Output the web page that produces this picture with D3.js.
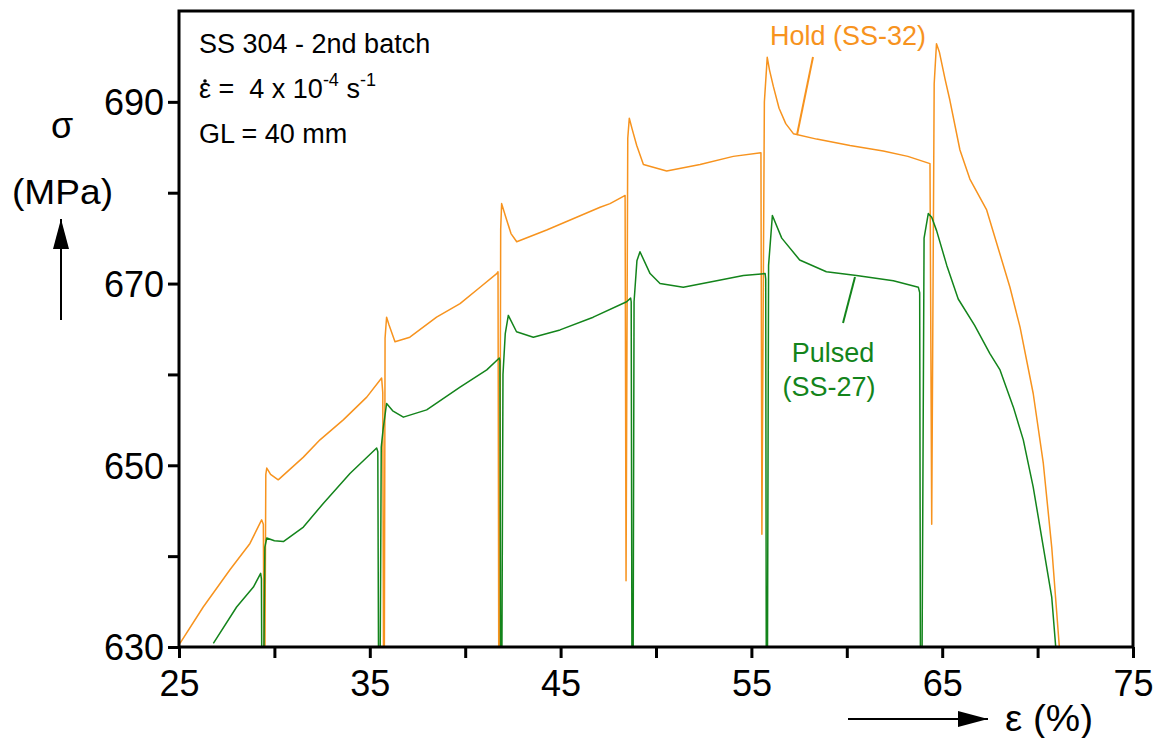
<!DOCTYPE html>
<html>
<head>
<meta charset="utf-8">
<script src="https://cdn.jsdelivr.net/npm/d3@7"></script>
<style>
  body { margin: 0; background: #fff; }
  svg { display: block; font-family: 'Liberation Sans', Arial, sans-serif; }
</style>
</head>
<body>
<svg id="svg"></svg>
<script>
// Hold (SS-32) : strain (%) / stress (MPa)
const holdStrain = [25.05, 26.27, 27.67, 28.72, 29.33, 29.42, 29.46, 29.50, 29.55, 29.6, 29.8, 30.2, 31.52, 32.39, 33.61, 34.84, 35.62,
  35.68, 35.72, 35.76, 35.8, 35.88, 36.0, 36.32, 37.1, 38.5, 39.73, 40.78, 41.65, 41.72, 41.76, 41.80, 41.86, 41.91, 42.1, 42.4, 42.7,
  44.27, 45.84, 47.07, 47.59, 48.29, 48.38, 48.43, 48.52, 48.60, 48.75, 48.99, 49.34, 50.56, 52.31, 54.05, 55.50, 55.55, 55.68, 55.83,
  55.95, 56.15, 56.45, 56.8, 57.2, 58.42, 60.17, 61.91, 63.2, 64.36, 64.45, 64.58, 64.7, 64.85, 65.15, 65.4, 65.93, 66.45, 67.33, 68.55,
  69.08, 69.77, 70.3, 70.74, 71.14, 71.2]
const holdStress = [630.4, 634.4, 638.5, 641.4, 644.0, 643.5, 627, 627, 649.0, 649.7, 649.0, 648.4, 650.9, 652.8, 655.0, 657.5, 659.6,
  658, 627, 627, 664, 666.3, 665.5, 663.6, 664.1, 666.3, 667.8, 669.6, 671.1, 671.3, 627, 627, 676, 678.8, 677.5, 675.5, 674.6,
  675.9, 677.3, 678.4, 678.8, 679.6, 679.7, 637.3, 686, 688.2, 687, 685.2, 683.1, 682.4, 683.1, 684.0, 684.4, 642.4, 690, 694.9,
  693.5, 691.7, 689.3, 687.6, 686.5, 685.9, 685.2, 684.6, 684.0, 683.2, 643.5, 692, 696.4, 695.5, 692.5, 690.2, 684.7, 681.5, 678.1, 669.6,
  665.2, 657.9, 650.2, 641.0, 630, 627]

// Pulsed (SS-27)
const pulsedStrain = [26.8, 28.02, 28.9, 29.28, 29.32, 29.34, 29.44, 29.5, 29.6, 30.0, 30.47, 31.52, 32.56, 33.96, 35.36, 35.42,
  35.46, 35.54, 35.6, 35.7, 35.88, 36.2, 36.76, 37.98, 39.73, 41.13, 41.79, 41.82, 41.86, 41.92, 41.98, 42.1, 42.26, 42.69, 43.57,
  44.97, 46.71, 48.46, 48.67, 48.70, 48.74, 48.80, 48.85, 49.0, 49.16, 49.69, 50.21, 51.43, 53.18, 54.58, 55.72, 55.75, 55.78, 55.84,
  55.9, 56.1, 56.59, 57.53, 58.93, 60.51, 62.44, 63.75, 63.82, 63.86, 63.94, 64.05, 64.27, 64.45, 64.71, 65.24, 65.84, 66.7, 67.5,
  68.03, 68.73, 69.25, 69.77, 70.3, 70.74, 70.95, 71.0]
const pulsedStress = [630.4, 634.4, 636.6, 638.1, 637.5, 627, 627, 641, 642.0, 641.7, 641.6, 643.2, 645.8, 649.1, 651.9, 651.5,
  627, 627, 652, 654, 656.8, 656.0, 655.3, 656.1, 658.6, 660.5, 661.8, 661.5, 627, 627, 660, 664.5, 666.5, 664.7, 664.1,
  664.9, 666.3, 668.0, 668.4, 668, 627, 627, 668, 672.5, 673.5, 671.1, 670.0, 669.6, 670.3, 670.9, 671.1, 670.5, 627, 627,
  672, 677.5, 675.0, 672.6, 671.3, 670.9, 670.3, 669.6, 669.0, 627, 627, 675, 677.7, 677.3, 675.8, 672.0, 668.3, 665.4, 662.3,
  660.5, 656.4, 652.8, 647.6, 641.0, 635.5, 630, 627]

const xTicks = [25, 30, 35, 40, 45, 50, 55, 60, 65, 70, 75]
const xLabels = [25, 35, 45, 55, 65, 75]
const yTicks = [630, 640, 650, 660, 670, 680, 690]
const yLabels = [630, 650, 670, 690]

const W = 1159, H = 738
const m = { left: 179, right: 1133, top: 11, bottom: 647 }
const orange = '#f7931e'
const green = '#13841b'

const svg = d3.select('#svg').attr('width', W).attr('height', H)

const x = d3.scaleLinear().domain([25, 75]).range([m.left, m.right])
const y = d3.scaleLinear().domain([630, 700]).range([m.bottom, m.top])

svg.append('clipPath').attr('id', 'clip')
  .append('rect')
  .attr('x', m.left).attr('y', m.top)
  .attr('width', m.right - m.left).attr('height', m.bottom - m.top)

const line = d3.line().x(d => x(d[0])).y(d => y(d[1]))

// curves
const drawCurve = (xs, ys, color) => {
  svg.append('path')
    .datum(d3.zip(xs, ys))
    .attr('clip-path', 'url(#clip)')
    .attr('fill', 'none')
    .attr('stroke', color)
    .attr('stroke-width', 1.5)
    .attr('stroke-linejoin', 'round')
    .attr('d', line)
}
drawCurve(holdStrain, holdStress, orange)
drawCurve(pulsedStrain, pulsedStress, green)

// axes
const xAxis = svg.append('g')
  .attr('transform', `translate(0,${m.bottom})`)
  .call(d3.axisBottom(x).tickValues(xTicks).tickSize(11).tickPadding(12)
    .tickFormat(d => xLabels.includes(d) ? d : ''))
const yAxis = svg.append('g')
  .attr('transform', `translate(${m.left},0)`)
  .call(d3.axisLeft(y).tickValues(yTicks).tickSize(11).tickPadding(4)
    .tickFormat(d => yLabels.includes(d) ? d : ''))

for (const g of [xAxis, yAxis]) {
  g.select('.domain').remove()
  g.selectAll('.tick line').attr('stroke', '#000').attr('stroke-width', 3)
  g.selectAll('.tick text')
    .attr('fill', '#000')
    .attr('font-family', "'Liberation Sans', Arial, sans-serif")
    .attr('font-size', 36)
}
yAxis.selectAll('.tick text').attr('dy', '0.36em')

// frame
svg.append('rect')
  .attr('x', m.left).attr('y', m.top)
  .attr('width', m.right - m.left).attr('height', m.bottom - m.top)
  .attr('fill', 'none')
  .attr('stroke', '#000')
  .attr('stroke-width', 3)

// arrow heads
svg.append('defs').append('marker')
  .attr('id', 'head')
  .attr('viewBox', '0 0 30 16')
  .attr('refX', 30).attr('refY', 8)
  .attr('markerWidth', 30).attr('markerHeight', 16)
  .attr('markerUnits', 'userSpaceOnUse')
  .attr('orient', 'auto')
  .append('path').attr('d', 'M0,0 L30,8 L0,16 Z').attr('fill', '#000')

// y axis title
svg.append('text').text('σ')
  .attr('x', 62).attr('y', 138)
  .attr('text-anchor', 'middle').attr('font-size', 36)
svg.append('text').text('(MPa)')
  .attr('x', 12).attr('y', 204)
  .attr('font-size', 35)
  .attr('textLength', 101).attr('lengthAdjust', 'spacingAndGlyphs')
svg.append('line')
  .attr('x1', 61).attr('y1', 320).attr('x2', 61).attr('y2', 219)
  .attr('stroke', '#000').attr('stroke-width', 2)
  .attr('marker-end', 'url(#head)')

// x axis title
svg.append('line')
  .attr('x1', 848).attr('y1', 719).attr('x2', 988).attr('y2', 719)
  .attr('stroke', '#000').attr('stroke-width', 2)
  .attr('marker-end', 'url(#head)')
svg.append('text').text('ε (%)')
  .attr('x', 1005).attr('y', 731)
  .attr('font-size', 36)
  .attr('textLength', 88).attr('lengthAdjust', 'spacingAndGlyphs')

// info text
const info = svg.append('g').attr('font-size', 27).attr('fill', '#000')
info.append('text').text('SS 304 - 2nd batch').attr('x', 199).attr('y', 53)

const rate = info.append('text').attr('x', 199).attr('y', 98).style('white-space', 'pre')
rate.append('tspan').text('ε')
rate.append('tspan').text(' =  4 x 10')
rate.append('tspan').text('-4').attr('font-size', 18).attr('dy', -12)
rate.append('tspan').text(' s').attr('dy', 12)
rate.append('tspan').text('-1').attr('font-size', 18).attr('dy', -12)
info.append('circle').attr('cx', 205).attr('cy', 81).attr('r', 1.8)

info.append('text').text('GL = 40 mm').attr('x', 199).attr('y', 143)

// annotations
svg.append('text').text('Hold (SS-32)')
  .attr('x', 770).attr('y', 45)
  .attr('font-size', 27).attr('fill', orange)
svg.append('line')
  .attr('x1', 813).attr('y1', 57).attr('x2', 797).attr('y2', 135)
  .attr('stroke', orange).attr('stroke-width', 2)

svg.append('text').text('Pulsed')
  .attr('x', 833).attr('y', 362)
  .attr('text-anchor', 'middle')
  .attr('font-size', 27).attr('fill', green)
svg.append('text').text('(SS-27)')
  .attr('x', 829).attr('y', 396)
  .attr('text-anchor', 'middle')
  .attr('font-size', 27).attr('fill', green)
svg.append('line')
  .attr('x1', 855).attr('y1', 277).attr('x2', 843).attr('y2', 323)
  .attr('stroke', green).attr('stroke-width', 2)
</script>
</body>
</html>
